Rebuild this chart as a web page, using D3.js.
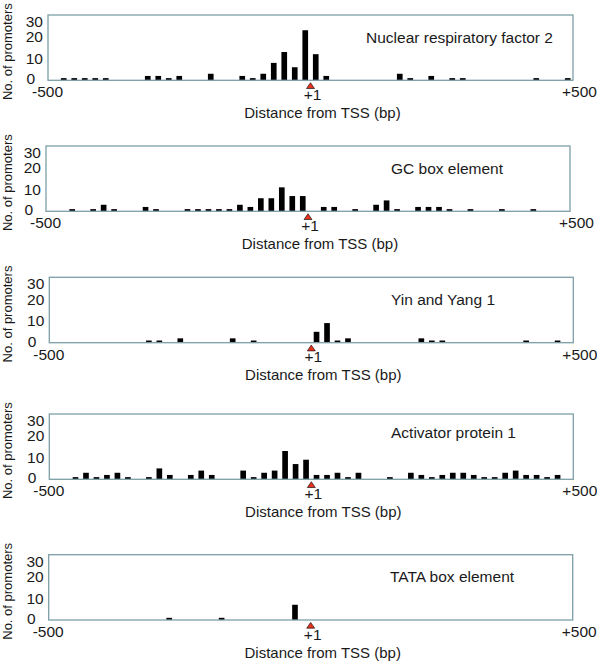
<!DOCTYPE html>
<html>
<head>
<meta charset="utf-8">
<script src="https://cdn.jsdelivr.net/npm/d3@7"></script>
<style>
  html, body { margin: 0; padding: 0; background: #fff; }
  svg { display: block; font-family: "Liberation Sans", Arial, sans-serif; }
</style>
</head>
<body>
<svg id="chart" width="600" height="670"></svg>
<script>
// ---------- data ----------
const titles = ["Nuclear respiratory factor 2", "GC box element", "Yin and Yang 1", "Activator protein 1", "TATA box element"];

// bin centres (bp from TSS, 20-bp bins) and number of promoters
const nrf2Pos    = [-470,-450,-430,-410,-390,-310,-290,-270,-250,-190,-130,-110,-90,-70,-50,-30,-10,10,30,170,190,230,270,290,430,490];
const nrf2Count  = [1,1,1,1,1,2,2,1,2,3,2,1,3,8,13,6,23,12,2,3,1,2,1,1,1,1];

const gcPos      = [-450,-410,-390,-370,-310,-290,-230,-210,-190,-170,-150,-130,-110,-90,-70,-50,-30,-10,30,50,90,130,150,170,210,230,250,270,310,370,430];
const gcCount    = [1,1,3,1,2,1,1,1,1,1,1,3,2,6,6,11,7,7,2,2,1,3,5,1,2,2,2,1,1,1,1];

const yy1Pos     = [-310,-290,-250,-150,-110,10,30,50,70,210,230,250,410,470];
const yy1Count   = [1,1,2,2,1,5,9,1,2,2,1,1,1,1];

const ap1Pos     = [-450,-430,-410,-390,-370,-350,-310,-290,-270,-230,-210,-190,-130,-110,-90,-70,-50,-30,-10,10,30,50,70,90,150,190,210,230,250,270,290,310,330,350,370,390,410,430,450,470];
const ap1Count   = [1,3,1,2,3,1,1,5,2,2,4,2,4,1,3,4,13,7,9,2,2,3,1,3,1,3,2,1,2,3,3,2,1,1,3,4,2,2,1,2];

const tataPos    = [-270,-170,-30];
const tataCount  = [1,1,7];

const yTicks = [0, 10, 20, 30];
const xTicks = [-500, 0, 500];
const xTickLabels = ["-500", "+1", "+500"];
const xDomain = [-500, 500];
const yDomain = [0, 30];
const binWidth = 20;

const series = [
  {pos: nrf2Pos, count: nrf2Count},
  {pos: gcPos, count: gcCount},
  {pos: yy1Pos, count: yy1Count},
  {pos: ap1Pos, count: ap1Count},
  {pos: tataPos, count: tataCount}
];

// ---------- layout (pixels) ----------
const layout = [
  {l: 48,   r: 573,   t: 15,    b: 80.3,  titleX: 366, titleY: 43.3},
  {l: 46,   r: 570,   t: 146,   b: 211.3, titleX: 391, titleY: 174},
  {l: 49.3, r: 573.3, t: 277.3, b: 342.7, titleX: 391, titleY: 305},
  {l: 49.3, r: 573.3, t: 414,   b: 479.3, titleX: 391, titleY: 438.3},
  {l: 48.7, r: 572.7, t: 554.7, b: 620,   titleX: 390, titleY: 581.7}
];

const textColor = "#1a1a1a";
const boxColor = "#7c9fa6";

const svg = d3.select("#chart");
svg.append("rect").attr("width", 600).attr("height", 670).attr("fill", "#fff");

series.forEach((s, i) => {
  const L = layout[i];
  const x = d3.scaleLinear().domain(xDomain).range([L.l, L.r]);
  const y = d3.scaleLinear().domain(yDomain).range([L.b, L.t]);
  const g = svg.append("g");

  const barW = (x(binWidth) - x(0)) * 0.54;
  const data = s.pos.map((p, k) => ({p, c: s.count[k]}));

  // bars
  g.selectAll("rect.bar").data(data).join("rect")
    .attr("class", "bar")
    .attr("x", d => x(d.p) - barW / 2)
    .attr("width", barW)
    .attr("y", d => y(d.c))
    .attr("height", d => y(0) - y(d.c))
    .attr("fill", "#000");

  // box frame
  g.append("rect")
    .attr("x", L.l).attr("y", L.t)
    .attr("width", L.r - L.l).attr("height", L.b - L.t)
    .attr("fill", "none").attr("stroke", boxColor).attr("stroke-width", 1.3);

  // y axis labels
  const yAx = g.append("g").attr("transform", `translate(${L.l - 5},0)`)
    .call(d3.axisLeft(y).tickValues(yTicks).tickSize(0).tickPadding(0).tickFormat(d3.format("d")));
  yAx.select(".domain").remove();
  yAx.selectAll("text")
    .attr("font-family", "Liberation Sans, Arial, sans-serif")
    .attr("font-size", 15.5).attr("fill", textColor)
    .attr("dy", d => d === 30 ? "0.75em" : (d === 0 ? "0.22em" : "0.32em"))
    .attr("x", d => d === 0 ? -8 : 0);

  // x axis labels
  const xAx = g.append("g").attr("transform", `translate(0,${L.b})`)
    .call(d3.axisBottom(x).tickValues(xTicks).tickSize(0).tickPadding(0)
      .tickFormat((d, k) => xTickLabels[k]));
  xAx.select(".domain").remove();
  xAx.selectAll("text")
    .attr("font-family", "Liberation Sans, Arial, sans-serif")
    .attr("font-size", 15.5).attr("fill", textColor)
    .attr("dy", null)
    .attr("y", d => d === 0 ? 19.7 : 17)
    .attr("x", d => d === 500 ? 6 : (d === 0 ? 1.5 : -1));

  // TSS triangle
  const cx = x(0);
  g.append("path")
    .attr("d", `M${cx},${L.b + 2.4} L${cx + 4},${L.b + 8.2} L${cx - 4},${L.b + 8.2} Z`)
    .attr("fill", "#e4321f").attr("stroke", "#000").attr("stroke-width", 0.6);

  // x title
  g.append("text")
    .attr("x", (L.l + L.r) / 2 + 12).attr("y", L.b + 37.5)
    .attr("text-anchor", "middle")
    .attr("font-size", 15).attr("fill", textColor)
    .text("Distance from TSS (bp)");

  // y title
  g.append("text")
    .attr("transform", `translate(11.5,${(L.t + L.b) / 2 + 4}) rotate(-90)`)
    .attr("text-anchor", "middle")
    .attr("font-size", 13).attr("fill", textColor)
    .text("No. of promoters");

  // panel title
  g.append("text")
    .attr("x", L.titleX).attr("y", L.titleY)
    .attr("font-size", 15.5).attr("fill", textColor)
    .text(titles[i]);
});
</script>
</body>
</html>
